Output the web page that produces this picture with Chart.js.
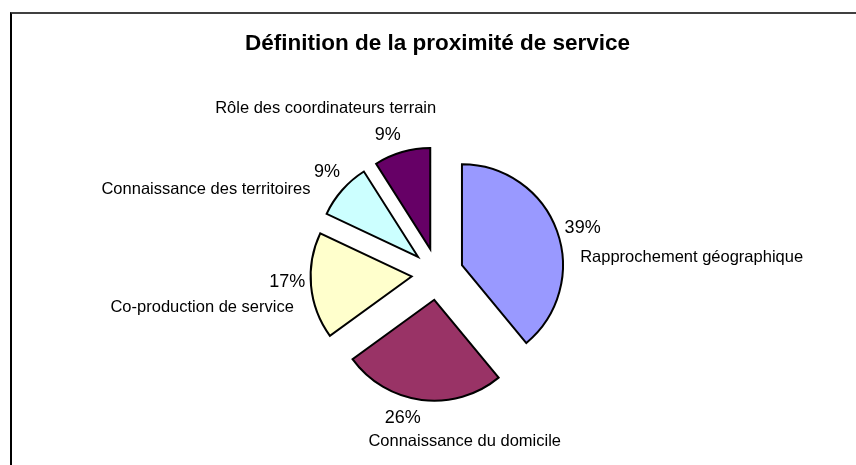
<!DOCTYPE html>
<html>
<head>
<meta charset="utf-8">
<script src="https://cdn.jsdelivr.net/npm/chart.js@4/dist/chart.umd.min.js"></script>
<style>
  body { margin: 0; background: #fff; overflow: hidden; }
  #wrap { position: relative; width: 856px; height: 465px; }
  #chart { position: absolute; left: 0; top: 0; }
  #frame {
    position: absolute; left: 10px; top: 12px; width: 900px; height: 500px;
    border-left: 2px solid #000; border-top: 2px solid #404040;
    pointer-events: none;
  }
</style>
</head>
<body>
<div id="wrap">
  <canvas id="chart" width="856" height="465"></canvas>
  <div id="frame"></div>
</div>
<script>
const categories = [
    "Rapprochement géographique",
    "Connaissance du domicile",
    "Co-production de service",
    "Connaissance des territoires",
    "Rôle des coordinateurs terrain"
];
const shares = [39, 26, 17, 9, 9];
const sliceColors = ["#9999FF", "#993366", "#FFFFCC", "#CCFFFF", "#660066"];

const FONT = "'Liberation Sans', Arial, sans-serif";

// label placement, hand tuned against the original (percent nudge, then name offset from percent)
const labelLayout = [
    { nudge: [4, 5],   name: [109, 29] },
    { nudge: [-16, -5], name: [62, 24] },
    { nudge: [-1, -6], name: [-85, 25] },
    { nudge: [2, -3],  name: [-121, 18] },
    { nudge: [-8, 5],  name: [-62, -27] }
];

// draws each slice pulled out from the centre (Excel style exploded pie)
const explodePlugin = {
    id: "explode",
    beforeDatasetDraw(chart, args, opts) {
        let ctx = chart.ctx;
        args.meta.data.forEach(arc => {
            let p = arc.getProps(["startAngle", "endAngle"], true);
            let mid = (p.startAngle + p.endAngle) / 2;
            ctx.save();
            ctx.translate(Math.cos(mid) * opts.distance, Math.sin(mid) * opts.distance);
            arc.draw(ctx);
            ctx.restore();
        });
        return false;
    }
};

const sliceLabels = {
    id: "sliceLabels",
    afterDatasetsDraw(chart, args, opts) {
        let ctx = chart.ctx;
        let meta = chart.getDatasetMeta(0);
        let values = chart.data.datasets[0].data;
        let total = values.reduce((a, b) => a + b, 0);
        ctx.save();
        ctx.fillStyle = "#000";
        ctx.textAlign = "center";
        ctx.textBaseline = "middle";
        meta.data.forEach((arc, i) => {
            let p = arc.getProps(["x", "y", "startAngle", "endAngle", "outerRadius"], true);
            let mid = (p.startAngle + p.endAngle) / 2;
            let d = p.outerRadius + opts.gap;
            let lay = labelLayout[i];
            let px = p.x + Math.cos(mid) * d + lay.nudge[0];
            let py = p.y + Math.sin(mid) * d + lay.nudge[1];
            ctx.font = "18px " + FONT;
            ctx.fillText(Math.round(values[i] / total * 100) + "%", px, py);
            ctx.font = "16.5px " + FONT;
            ctx.fillText(chart.data.labels[i], px + lay.name[0], py + lay.name[1]);
        });
        ctx.restore();
    }
};

new Chart(document.getElementById("chart"), {
    type: "pie",
    data: {
        labels: categories,
        datasets: [{
            data: shares,
            backgroundColor: sliceColors,
            borderColor: "#000",
            borderWidth: 2,
            borderJoinStyle: "miter"
        }]
    },
    options: {
        responsive: false,
        animation: false,
        devicePixelRatio: 1,
        radius: 101,
        layout: { padding: { left: 19, right: 0, top: 0, bottom: 0 } },
        plugins: {
            legend: { display: false },
            tooltip: { enabled: false },
            title: {
                display: true,
                text: "Définition de la proximité de service",
                color: "#000",
                font: { family: FONT, size: 22.5, weight: "bold" },
                padding: { top: 30, bottom: 26 }
            },
            explode: { distance: 26 },
            sliceLabels: { gap: 49 }
        }
    },
    plugins: [explodePlugin, sliceLabels]
});
</script>
</body>
</html>
